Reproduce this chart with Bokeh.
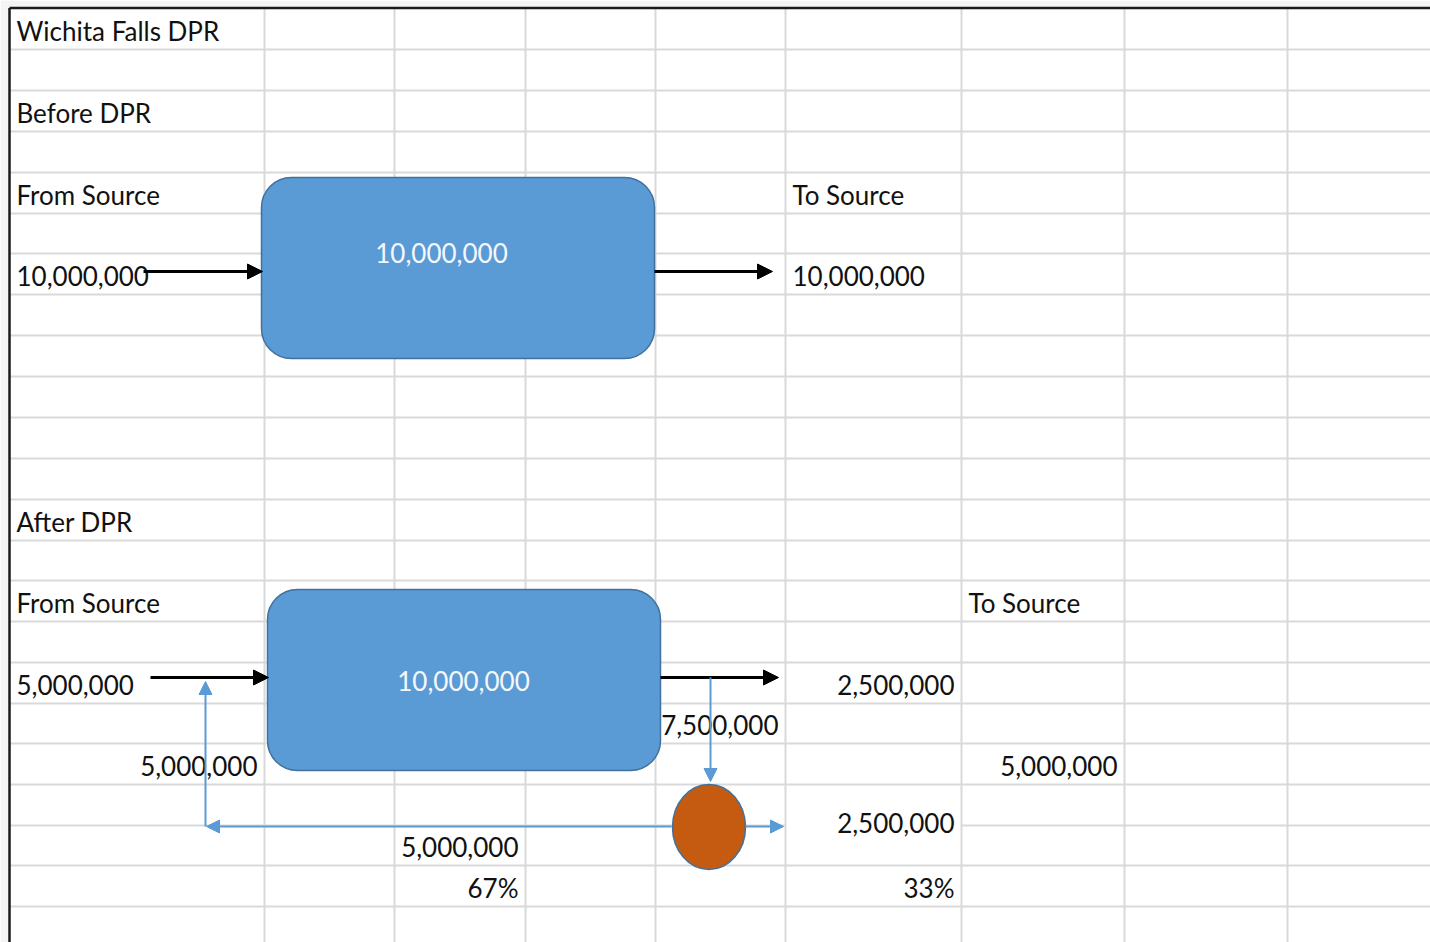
from bokeh.plotting import figure
from bokeh.models import Range1d, Arrow, NormalHead
from bokeh.core.properties import value
from bokeh.embed import file_html
from bokeh.resources import INLINE

# ---------------- data ----------------
title = "Wichita Falls DPR"
section_labels = ["Before DPR", "After DPR"]
from_label = "From Source"
to_label = "To Source"

before_from_source = 10_000_000
before_plant = 10_000_000
before_to_source = 10_000_000

after_from_source = 5_000_000
after_plant = 10_000_000
after_direct_to_source = 2_500_000
after_to_dpr = 7_500_000
after_recycled = 5_000_000
after_split_to_source = 2_500_000
after_total_to_source = 5_000_000
pct_recycled = 67
pct_returned = 33


def fmt(v):
    return f"{v:,}"


# ---------------- layout (sheet grid) ----------------
col_edges = [9, 264, 394, 525, 655, 785, 961, 1124, 1287]
row_edges = [8, 49, 90, 131, 172, 213, 253, 294, 335, 376, 417, 458, 499,
             540, 580, 621, 662, 703, 743, 784, 825, 865, 906]

W, H = 1430, 942
X0, Y0 = 0, 0

p = figure(width=W, height=H, output_backend="svg", toolbar_location=None,
           x_range=Range1d(X0, X0 + W), y_range=Range1d(Y0 + H, Y0),
           min_border=0, outline_line_color=None,
           background_fill_color="white", border_fill_color="white")
p.axis.visible = False
p.grid.visible = False

# area outside the sheet
p.quad(left=[X0, X0], right=[col_edges[0], X0 + W], top=[Y0, Y0],
       bottom=[Y0 + H, row_edges[0] - 1], fill_color="#f4f4f4", line_color=None)

grid_col = "#d9d9d9"
# vertical grid lines
p.segment(x0=col_edges[1:], y0=[row_edges[0]] * (len(col_edges) - 1),
          x1=col_edges[1:], y1=[Y0 + H] * (len(col_edges) - 1),
          line_color=grid_col, line_width=2)
# horizontal grid lines (row 20 line merged in column 5)
hx0, hy0, hx1, hy1 = [], [], [], []
for i, y in enumerate(row_edges[1:], start=1):
    if i == 20:
        hx0 += [col_edges[0], col_edges[6]]
        hx1 += [col_edges[5], X0 + W]
        hy0 += [y, y]
        hy1 += [y, y]
    else:
        hx0.append(col_edges[0]); hx1.append(X0 + W)
        hy0.append(y); hy1.append(y)
p.segment(x0=hx0, y0=hy0, x1=hx1, y1=hy1, line_color=grid_col, line_width=2)

# sheet border (top / left)
p.segment(x0=[col_edges[0], col_edges[0]], y0=[row_edges[0] - 0.5, row_edges[0] - 0.5],
          x1=[X0 + W, col_edges[0]], y1=[row_edges[0] - 0.5, Y0 + H],
          line_color="#1a1a1a", line_width=2.5)

# ---------------- cell texts ----------------
font = value("Lato")
fsize = value("26px")
BASE_OFF = 19   # baseline distance above the cell's bottom edge

cells = [
    (title, 0, 0, "left"),
    (section_labels[0], 0, 2, "left"),
    (from_label, 0, 4, "left"),
    (to_label, 5, 4, "left"),
    (fmt(before_from_source), 0, 6, "left"),
    (fmt(before_to_source), 5, 6, "left"),
    (section_labels[1], 0, 12, "left"),
    (from_label, 0, 14, "left"),
    (to_label, 6, 14, "left"),
    (fmt(after_from_source), 0, 16, "left"),
    (fmt(after_direct_to_source), 5, 16, "right"),
    (fmt(after_to_dpr), 4, 17, "right"),
    (fmt(after_recycled), 0, 18, "right"),
    (fmt(after_total_to_source), 6, 18, "right"),
    (fmt(after_split_to_source), 5, 19.5, "right"),
    (fmt(after_recycled), 2, 20, "right"),
    (f"{pct_recycled}%", 2, 21, "right"),
    (f"{pct_returned}%", 5, 21, "right"),
]

for align in ("left", "right"):
    xs, ys, ts = [], [], []
    for txt, c, r, a in cells:
        if a != align:
            continue
        if r == int(r):
            base = row_edges[int(r) + 1] - BASE_OFF
        else:
            base = (row_edges[int(r)] + row_edges[int(r) + 2]) / 2 + 8 - 10
        x = col_edges[c] + 7 if a == "left" else col_edges[c + 1] - 7
        xs.append(x); ys.append(base); ts.append(txt)
    p.text(x=xs, y=ys, text=ts, text_font=font, text_font_size=fsize,
           text_color="#111111", text_align=align, text_baseline="alphabetic")

# ---------------- process boxes ----------------
box_left = [261, 267]
box_right = [654, 660]
box_top = [177, 589]
box_bottom = [358, 770]
box_vals = [before_plant, after_plant]
p.quad(left=box_left, right=box_right, top=box_top, bottom=box_bottom,
       fill_color="#5b9bd5", line_color="#41719c", line_width=1.5,
       border_radius=30)
p.text(x=[441, 463], y=[252, 680], text=[fmt(v) for v in box_vals],
       text_font=font, text_font_size=fsize, text_color="#f4f8fc",
       text_align="center", text_baseline="alphabetic")

# ---------------- flows ----------------
black_arrows = [(143, 271, 262, 271), (654, 271, 772, 271),
                (150, 677, 268, 677), (660, 677, 778, 677)]
for xs_, ys_, xe, ye in black_arrows:
    p.add_layout(Arrow(end=NormalHead(size=15, fill_color="black", line_color="black"),
                       x_start=xs_, y_start=ys_, x_end=xe, y_end=ye,
                       line_color="black", line_width=3))

blue = "#5b9bd5"
blue_arrows = [(710, 677, 710, 781), (671, 826, 206, 826),
               (205, 826, 205, 681), (745, 826, 783, 826)]
for xs_, ys_, xe, ye in blue_arrows:
    p.add_layout(Arrow(end=NormalHead(size=13, fill_color=blue, line_color=blue),
                       x_start=xs_, y_start=ys_, x_end=xe, y_end=ye,
                       line_color=blue, line_width=2))

# DPR split node
p.ellipse(x=[708.5], y=[826.5], width=[73], height=[85],
          fill_color="#c55a11", line_color="#41719c", line_width=1.5)

open("out.html", "w").write(file_html(p, INLINE))
